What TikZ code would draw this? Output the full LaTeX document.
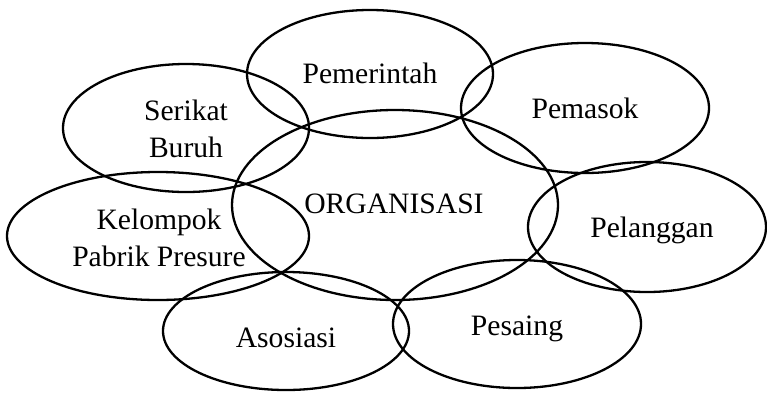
\documentclass[tikz,border=0pt]{standalone}
\usepackage{fontspec}
\setmainfont{Liberation Serif}
\usetikzlibrary{shapes.geometric}
\begin{document}
\begin{tikzpicture}[x=1pt,y=-1pt,
  oval/.style 2 args={ellipse, draw=black, line width=2.3pt, inner sep=0pt,
    minimum width=#1pt, minimum height=#2pt},
  caption/.style={anchor=base, inner sep=0pt, align=center, text=black,
    font=\fontsize{29.6}{37}\selectfont}]
  \fill[white] (0,0) rectangle (767,400);
  \useasboundingbox (0,0) rectangle (767,400);

  % the organisation in the middle and the parties around it
  \node[oval={326}{190}] (org) at (395,205) {};
  \node[oval={246}{128}] (pem) at (370,74) {};
  \node[oval={248}{130}] (pas) at (585,108) {};
  \node[oval={246}{128}] (ser) at (186,128) {};
  \node[oval={302}{128}] (kel) at (158,236) {};
  \node[oval={238}{130}] (pel) at (647,227) {};
  \node[oval={246}{118}] (aso) at (286,331) {};
  \node[oval={248}{128}] (pes) at (517,324) {};

  % labels (two-line labels sit on the baseline of their last line)
  \node[caption] (t-org) at (394,213) {ORGANISASI};
  \node[caption] (t-pem) at (370,83) {Pemerintah};
  \node[caption] (t-pas) at (585,118) {Pemasok};
  \node[caption] (t-ser) at (186,157) {Serikat\\Buruh};
  \node[caption] (t-kel) at (159,266) {Kelompok\\Pabrik Presure};
  \node[caption] (t-pel) at (652,237) {Pelanggan};
  \node[caption] (t-aso) at (286,347) {Asosiasi};
  \node[caption] (t-pes) at (517,335) {Pesaing};
\end{tikzpicture}
\end{document}
